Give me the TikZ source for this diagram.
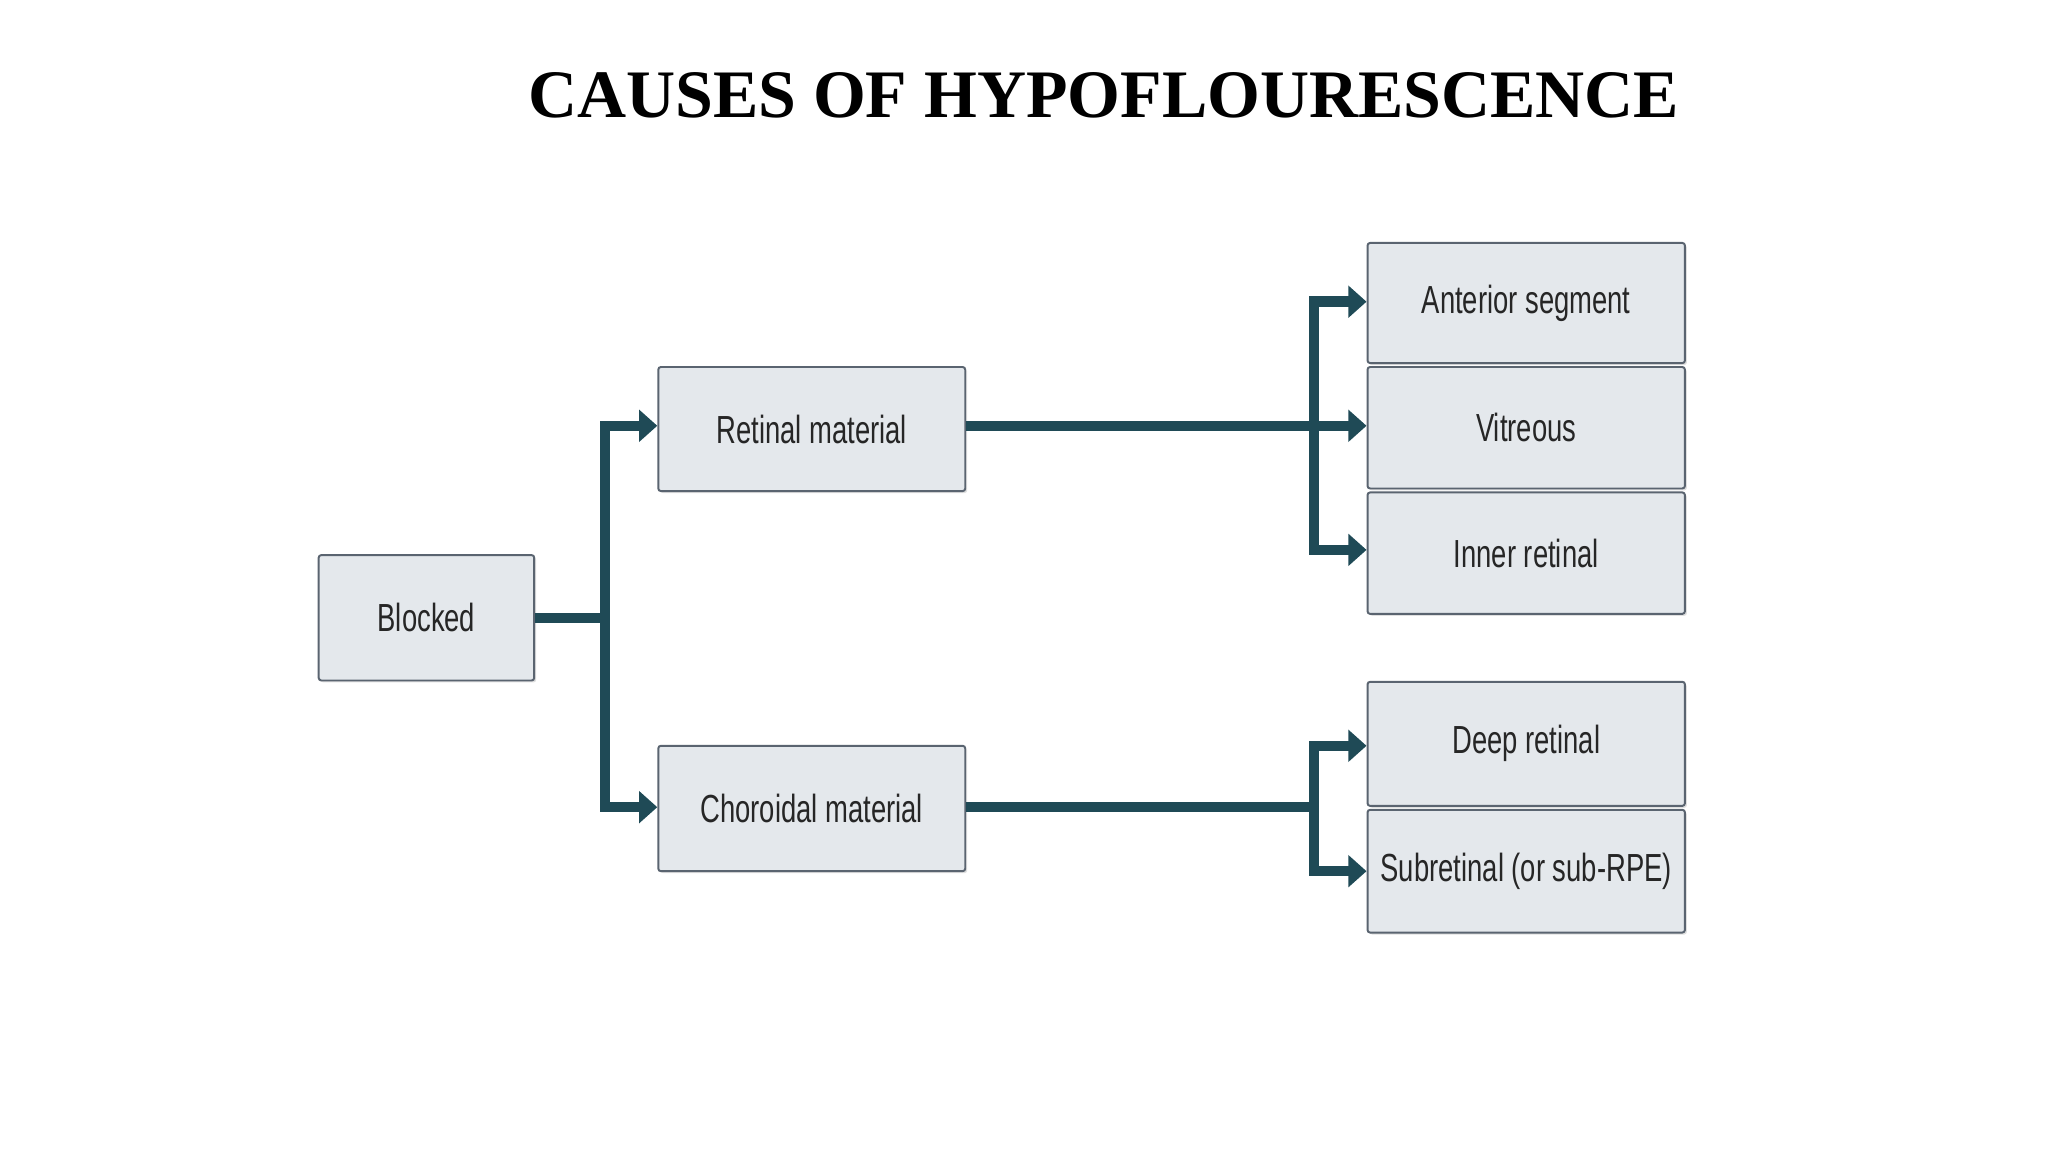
\documentclass[tikz,border=0pt]{standalone}
\usepackage{fontspec}
\setmainfont{Liberation Serif}
\newfontfamily\narrowfont[FakeStretch=0.7]{Liberation Sans}
\usetikzlibrary{arrows.meta,shadows}
\definecolor{conn}{HTML}{1F4A56}
\definecolor{boxfill}{HTML}{E4E8EC}
\definecolor{boxline}{HTML}{5A6470}
\tikzset{
  bx/.style={draw=boxline,line width=1.5pt,fill=boxfill,rounded corners=2pt,
    drop shadow={shadow xshift=1.5pt,shadow yshift=-1.5pt,opacity=0.25},
    font=\narrowfont\fontsize{30}{32}\selectfont,text=black!85,inner sep=0pt},
  ln/.style={conn,line width=8pt},
  ar/.style={ln,-{Triangle[length=14pt,width=24pt]}}
}
\begin{document}
\begin{tikzpicture}[x=1pt,y=-1pt]
\useasboundingbox (0,0) rectangle (1568,882);
\node[font=\bfseries\fontsize{52}{56}\selectfont] (title) at (845,73) {CAUSES OF HYPOFLOURESCENCE};
\node[bx,minimum width=165pt,minimum height=96pt] (blk) at (326.5,473) {Blocked};
\node[bx,minimum width=235pt,minimum height=95pt] (ret) at (621.5,328.5) {Retinal material};
\node[bx,minimum width=235pt,minimum height=96pt] (cho) at (621.5,619) {Choroidal material};
\node[bx,minimum width=243pt,minimum height=92pt] (ant) at (1168.5,232) {Anterior segment};
\node[bx,minimum width=243pt,minimum height=93pt] (vit) at (1168.5,327.5) {Vitreous};
\node[bx,minimum width=243pt,minimum height=93pt] (inn) at (1168.5,423.5) {Inner retinal};
\node[bx,minimum width=243pt,minimum height=95pt] (dee) at (1168.5,569.5) {Deep retinal};
\node[bx,minimum width=243pt,minimum height=94pt] (sub) at (1168.5,667) {Subretinal (or sub-RPE)};
\coordinate (j1) at (463,473);
\coordinate (j2) at (1006,326);
\coordinate (j3) at (1006,618);
\draw[ln] (blk.east |- j1) -- (j1);
\draw[ar] (j1) |- (ret.west |- 0,326);
\draw[ar] (j1) |- (cho.west |- 0,618);
\draw[ln] (ret.east |- j2) -- (j2);
\draw[ar] (j2) |- (ant.west |- 0,231);
\draw[ar] (j2) -- (vit.west |- j2);
\draw[ar] (j2) |- (inn.west |- 0,421);
\draw[ln] (cho.east |- j3) -- (j3);
\draw[ar] (j3) |- (dee.west |- 0,571);
\draw[ar] (j3) |- (sub.west |- 0,667);
\end{tikzpicture}
\end{document}
